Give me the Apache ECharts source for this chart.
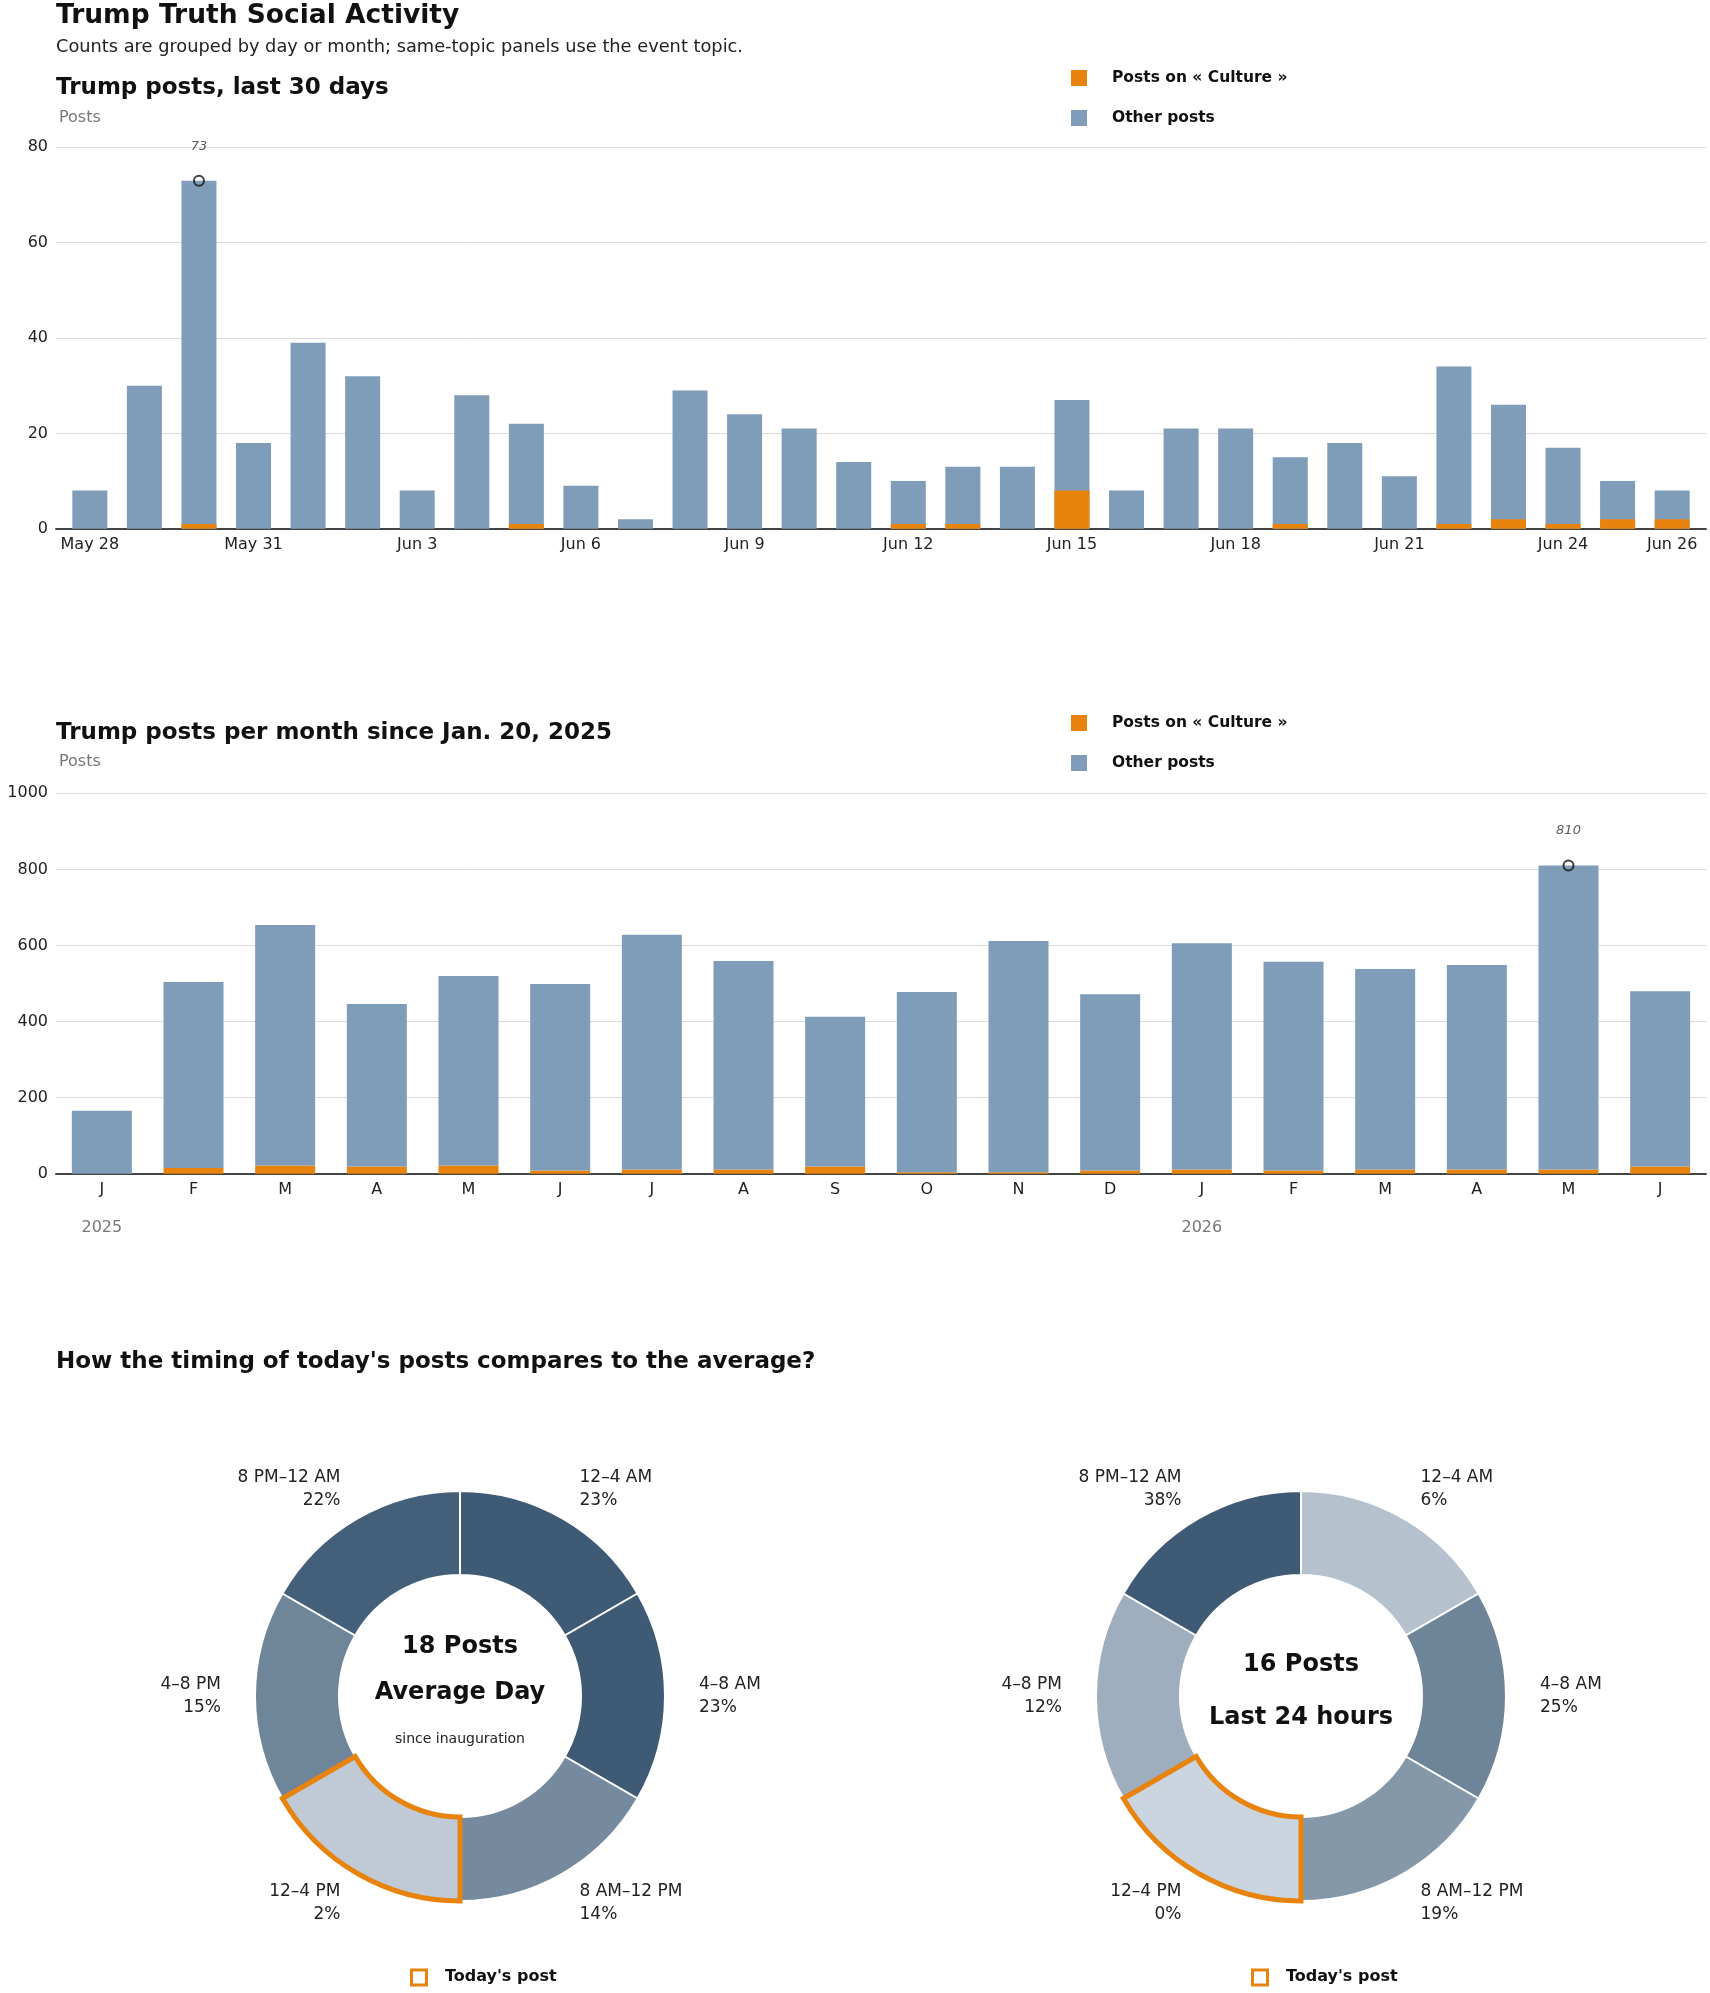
<!DOCTYPE html>
<html>
<head>
<meta charset="utf-8">
<title>Trump Truth Social Activity</title>
<script src="https://cdn.jsdelivr.net/npm/echarts@6/dist/echarts.min.js"></script>
<style>
  html, body { margin: 0; padding: 0; background: #fff; }
  #main { width: 1710px; height: 1993px; }
</style>
</head>
<body>
<div id="main"></div>
<script>
// last 30 days
var dayLabels = ['May 28', 'May 29', 'May 30', 'May 31', 'Jun 1', 'Jun 2', 'Jun 3', 'Jun 4', 'Jun 5', 'Jun 6',
    'Jun 7', 'Jun 8', 'Jun 9', 'Jun 10', 'Jun 11', 'Jun 12', 'Jun 13', 'Jun 14', 'Jun 15', 'Jun 16',
    'Jun 17', 'Jun 18', 'Jun 19', 'Jun 20', 'Jun 21', 'Jun 22', 'Jun 23', 'Jun 24', 'Jun 25', 'Jun 26'];
var dayTicks = [0, 3, 6, 9, 12, 15, 18, 21, 24, 27, 29];
var dayCulture = [0, 0, 1, 0, 0, 0, 0, 0, 1, 0, 0, 0, 0, 0, 0, 1, 1, 0, 8, 0, 0, 0, 1, 0, 0, 1, 2, 1, 2, 2];
var dayOther = [8, 30, 72, 18, 39, 32, 8, 28, 21, 9, 2, 29, 24, 21, 14, 9, 12, 13, 19, 8, 21, 21, 14, 18, 11, 33, 24, 16, 8, 6];

// per month since Jan 20, 2025
var monthLabels = ['J', 'F', 'M', 'A', 'M', 'J', 'J', 'A', 'S', 'O', 'N', 'D', 'J', 'F', 'M', 'A', 'M', 'J'];
var yearLabels = ['2025', '', '', '', '', '', '', '', '', '', '', '', '2026', '', '', '', '', ''];
var monthCulture = [0, 15, 22, 19, 22, 9, 11, 11, 19, 4, 4, 9, 11, 9, 11, 11, 11, 19];
var monthOther = [166, 489, 632, 427, 498, 490, 617, 548, 394, 474, 608, 463, 595, 548, 527, 538, 799, 461];

// timing donuts
var slotNames = ['12–4 AM', '4–8 AM', '8 AM–12 PM', '12–4 PM', '4–8 PM', '8 PM–12 AM'];
var slotHours = [4, 4, 4, 4, 4, 4];
var avgPct = [23, 23, 14, 2, 15, 22];
var todayPct = [6, 25, 19, 0, 12, 38];
var avgPosts = 18;
var last24Posts = 16;
var todaySlot = '12–4 PM';

var ORANGE = '#e8830e';
var BLUE = '#7f9cb9';
var FONT = '"DejaVu Sans", sans-serif';
var CULT = 'Posts on « Culture »';
var OTHER = 'Other posts';

var dayTotal = dayCulture.map(function (v, i) { return v + dayOther[i]; });
var monthTotal = monthCulture.map(function (v, i) { return v + monthOther[i]; });
var peakDay = dayTotal.indexOf(Math.max.apply(null, dayTotal));
var peakMonth = monthTotal.indexOf(Math.max.apply(null, monthTotal));

// light -> dark blue-gray, relative to the donut's max share
function shade(p, max) {
    var a = [203, 213, 223], b = [62, 90, 117], t = p / max;
    var c = a.map(function (v, k) { return Math.round(v + (b[k] - v) * t); });
    return 'rgb(' + c.join(',') + ')';
}

function txt(x, y, text, font, fill, align) {
    return {
        type: 'text', x: x, y: y, silent: true,
        style: {
            text: text, font: font, fill: fill,
            textAlign: align || 'left', align: align || 'left',
            textVerticalAlign: 'middle', verticalAlign: 'middle'
        }
    };
}

function peakMarker(xi, yi, point) {
    return {
        type: 'scatter', xAxisIndex: xi, yAxisIndex: yi, z: 5, silent: true,
        data: [point], symbol: 'circle', symbolSize: 10,
        itemStyle: { color: 'rgba(0,0,0,0)', borderColor: '#111', borderWidth: 2 },
        label: {
            show: true, position: 'top', distance: 22,
            formatter: function (p) { return p.value[1]; },
            fontStyle: 'italic', fontSize: 13, fontFamily: FONT, color: '#333'
        }
    };
}

function donut(cx, pcts) {
    var max = Math.max.apply(null, pcts);
    return [{
        type: 'pie', center: [cx, 1696], radius: [121, 205], silent: true,
        avoidLabelOverlap: false, startAngle: 90,
        itemStyle: { borderColor: '#fff', borderWidth: 2 },
        label: {
            position: 'outside', distanceToLabelLine: 0,
            fontFamily: FONT, fontSize: 17, lineHeight: 23, color: '#222',
            formatter: function (p) { return p.name + '\n' + pcts[p.dataIndex] + '%'; }
        },
        labelLine: { show: false, length: 34, length2: 0 },
        data: slotNames.map(function (n, i) {
            return { name: n, value: slotHours[i], itemStyle: { color: shade(pcts[i], max) } };
        })
    }, {
        type: 'pie', center: [cx, 1696], radius: [121, 205], silent: true, startAngle: 90,
        label: { show: false }, labelLine: { show: false },
        data: slotNames.map(function (n, i) {
            return {
                name: n, value: slotHours[i],
                itemStyle: n === todaySlot
                    ? { color: 'rgba(0,0,0,0)', borderColor: ORANGE, borderWidth: 5, borderJoin: 'miter' }
                    : { color: 'rgba(0,0,0,0)', borderWidth: 0 }
            };
        })
    }];
}

var axisText = { fontFamily: FONT, fontSize: 16, color: '#222' };

var legendBase = {
    data: [CULT, OTHER], orient: 'vertical', left: 1066,
    itemWidth: 16, itemHeight: 16, itemGap: 24, icon: 'rect', selectedMode: false,
    textStyle: { fontFamily: FONT, fontWeight: 'bold', fontSize: 15.5, color: '#111', padding: [0, 0, 0, 20] }
};

var chart = echarts.init(document.getElementById('main'));
chart.setOption({
    animation: false,
    backgroundColor: '#fff',
    legend: [
        Object.assign({}, legendBase, { top: 65 }),
        Object.assign({}, legendBase, { top: 710 })
    ],
    grid: [
        { left: 56, top: 147.3, width: 1650, height: 381.4 },
        { left: 56, top: 793.3, width: 1650, height: 380.5 }
    ],
    xAxis: [{
        type: 'value', gridIndex: 0, min: -0.62, max: 29.62,
        splitLine: { show: false }, axisTick: { show: false },
        axisLine: { show: true, lineStyle: { color: '#444', width: 2 } },
        axisLabel: Object.assign({
            customValues: dayTicks, margin: 8,
            formatter: function (v) { return dayLabels[Math.round(v)]; }
        }, axisText)
    }, {
        type: 'category', gridIndex: 1, data: monthLabels,
        axisTick: { show: false },
        axisLine: { show: true, lineStyle: { color: '#444', width: 2 } },
        axisLabel: Object.assign({ interval: 0, margin: 8 }, axisText)
    }, {
        type: 'category', gridIndex: 1, data: yearLabels, position: 'bottom',
        axisTick: { show: false }, axisLine: { show: false },
        axisLabel: Object.assign({}, axisText, { interval: 0, margin: 46, color: '#777' })
    }],
    yAxis: [{
        type: 'value', gridIndex: 0, min: 0, max: 80, interval: 20,
        axisLine: { show: false }, axisTick: { show: false },
        splitLine: { lineStyle: { color: '#dcdcdc', width: 1 } },
        axisLabel: Object.assign({ margin: 8 }, axisText)
    }, {
        type: 'value', gridIndex: 1, min: 0, max: 1000, interval: 200,
        axisLine: { show: false }, axisTick: { show: false },
        splitLine: { lineStyle: { color: '#dcdcdc', width: 1 } },
        axisLabel: Object.assign({ margin: 8, formatter: function (v) { return String(v); } }, axisText)
    }],
    series: [
        // daily bars sit on a value axis, so the full bar is drawn first and the culture part over it
        { name: OTHER, type: 'bar', xAxisIndex: 0, yAxisIndex: 0, barWidth: 35, barGap: '-100%',
          itemStyle: { color: BLUE }, data: dayTotal.map(function (v, i) { return [i, v]; }) },
        { name: CULT, type: 'bar', xAxisIndex: 0, yAxisIndex: 0, barWidth: 35, barGap: '-100%',
          itemStyle: { color: ORANGE }, data: dayCulture.map(function (v, i) { return [i, v]; }) },
        peakMarker(0, 0, [peakDay, dayTotal[peakDay]]),
        { name: CULT, type: 'bar', xAxisIndex: 1, yAxisIndex: 1, stack: 'month', barWidth: 60,
          itemStyle: { color: ORANGE }, data: monthCulture },
        { name: OTHER, type: 'bar', xAxisIndex: 1, yAxisIndex: 1, stack: 'month', barWidth: 60,
          itemStyle: { color: BLUE }, data: monthOther },
        peakMarker(1, 1, [peakMonth, monthTotal[peakMonth]])
    ].concat(donut(460, avgPct), donut(1301, todayPct)),
    graphic: [
        txt(56, 16.6, 'Trump Truth Social Activity', 'bold 26.5px ' + FONT, '#111'),
        txt(56, 47.5, 'Counts are grouped by day or month; same-topic panels use the event topic.', '17.8px ' + FONT, '#222'),
        txt(56, 88, 'Trump posts, last 30 days', 'bold 23px ' + FONT, '#111'),
        txt(59, 117.5, 'Posts', '16px ' + FONT, '#777'),
        txt(56, 733.4, 'Trump posts per month since Jan. 20, 2025', 'bold 23px ' + FONT, '#111'),
        txt(59, 761.5, 'Posts', '16px ' + FONT, '#777'),
        txt(56, 1362, "How the timing of today's posts compares to the average?", 'bold 23px ' + FONT, '#111'),
        txt(460, 1647, avgPosts + ' Posts', 'bold 24px ' + FONT, '#111', 'center'),
        txt(460, 1692.5, 'Average Day', 'bold 24px ' + FONT, '#111', 'center'),
        txt(460, 1739, 'since inauguration', '14px ' + FONT, '#222', 'center'),
        txt(1301, 1665, last24Posts + ' Posts', 'bold 24px ' + FONT, '#111', 'center'),
        txt(1301, 1718, 'Last 24 hours', 'bold 24px ' + FONT, '#111', 'center'),
        { type: 'rect', silent: true, shape: { x: 411.5, y: 1970, width: 15, height: 15 },
          style: { fill: '#fff', stroke: ORANGE, lineWidth: 3 } },
        txt(445, 1977, "Today's post", 'bold 16px ' + FONT, '#111'),
        { type: 'rect', silent: true, shape: { x: 1252.5, y: 1970, width: 15, height: 15 },
          style: { fill: '#fff', stroke: ORANGE, lineWidth: 3 } },
        txt(1286, 1977, "Today's post", 'bold 16px ' + FONT, '#111')
    ]
});
</script>
</body>
</html>
